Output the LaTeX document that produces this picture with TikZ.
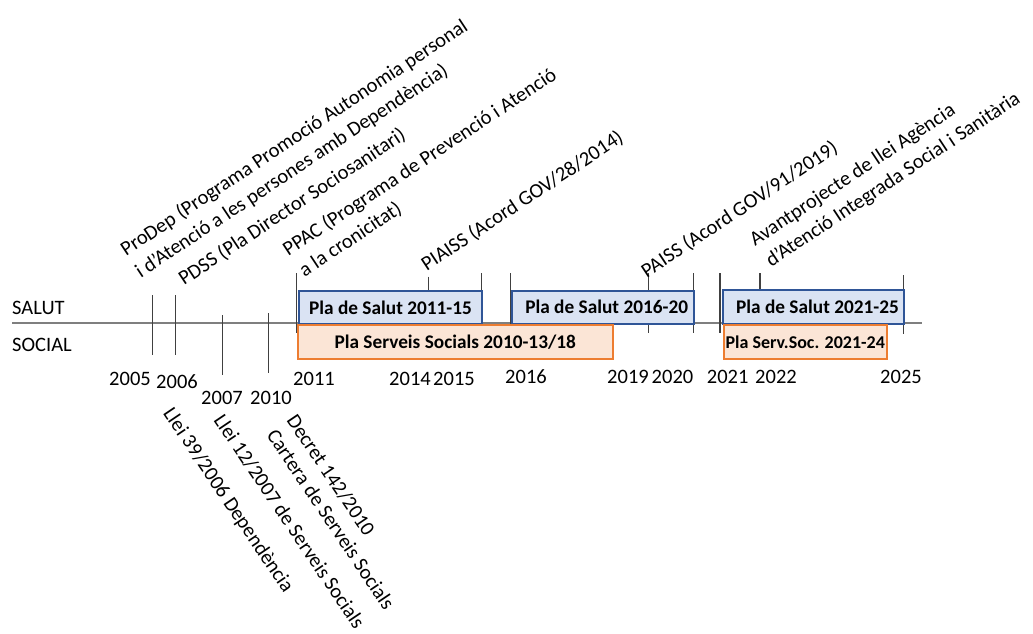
\documentclass[tikz,border=0pt]{standalone}
\usepackage{fontspec}
\setmainfont{Carlito}
\definecolor{salutfill}{HTML}{DAE3F3}
\definecolor{salutedge}{HTML}{2F5597}
\definecolor{socfill}{HTML}{FBE5D6}
\definecolor{socedge}{HTML}{ED7D31}
\definecolor{axisgray}{HTML}{7F7F7F}
\definecolor{tickgray}{HTML}{404040}
\tikzset{
  axisline/.style={draw=axisgray, line width=1.6pt},
  tickmark/.style={draw=tickgray, line width=1.1pt},
  planbox/.style={anchor=north west, inner sep=0pt, line width=2pt,
    font=\fontsize{19.3}{23}\selectfont\bfseries},
  salutbox/.style={planbox, fill=salutfill, draw=salutedge},
  socbox/.style={planbox, fill=socfill, draw=socedge},
  rowlabel/.style={anchor=base west, inner sep=0pt, font=\fontsize{20.5}{24}\selectfont},
  yearlabel/.style={anchor=base, inner sep=0pt, font=\fontsize{20.5}{24}\selectfont},
  uplabel/.style={anchor=base west, inner sep=0pt, rotate=33.5,
    font=\fontsize{20.5}{24}\selectfont},
  downlabel/.style={anchor=north west, inner sep=0pt, rotate=-56,
    font=\fontsize{20.5}{24}\selectfont},
}
\begin{document}
\begin{tikzpicture}[x=1pt,y=-1pt]
\useasboundingbox (0,0) rectangle (1033,633);

% time axis
\coordinate (axL) at (12,322.7);
\coordinate (axR) at (921.7,322.7);
\draw[axisline] (axL) -- (axR);

% row labels
\node[rowlabel] (salut) at (12,314) {SALUT};
\node[rowlabel] (social) at (12,351) {SOCIAL};

% year ticks
\draw[tickmark] (152.3,295) -- (152.3,355);
\draw[tickmark] (175.3,295) -- (175.3,355);
\draw[tickmark] (222.7,315) -- (222.7,375);
\draw[tickmark] (268.7,313) -- (268.7,373);
\draw[tickmark] (296.3,273) -- (296.3,333);
\draw[tickmark] (428.3,276.7) -- (428.3,330);
\draw[tickmark] (481.3,273) -- (481.3,330);
\draw[tickmark] (510.7,273) -- (510.7,330);
\draw[tickmark] (648.3,273) -- (648.3,332.7);
\draw[tickmark] (693.3,273) -- (693.3,332.7);
\draw[tickmark] (720,273) -- (720,332.7);
\draw[tickmark] (760,273) -- (760,330);
\draw[tickmark] (903.3,275) -- (903.3,334);

% plans
\node[salutbox, minimum width=182.4pt, minimum height=33pt] (ps1) at (298.3,290) {Pla de Salut 2011-15};
\node[salutbox, minimum width=182pt, minimum height=32.5pt] (ps2) at (510.7,290) {\hspace{8pt}Pla de Salut 2016-20};
\node[salutbox, minimum width=181.6pt, minimum height=33.4pt] (ps3) at (721.7,289.3) {\hspace{8pt}Pla de Salut 2021-25};
\node[socbox, minimum width=315pt, minimum height=33.4pt] (pss1) at (296.7,324.3) {Pla Serveis Socials 2010-13/18};
\node[socbox, minimum width=162.8pt, minimum height=33.4pt, font=\fontsize{18}{22}\selectfont\bfseries] (pss2) at (722.9,324.3) {Pla Serv.Soc. 2021-24};

% years
\node[yearlabel] (y2005) at (130,385) {2005};
\node[yearlabel] (y2006) at (177,388) {2006};
\node[yearlabel] (y2007) at (222,404.5) {2007};
\node[yearlabel] (y2010) at (271,404.5) {2010};
\node[yearlabel] (y2011) at (314,385) {2011};
\node[yearlabel] (y2014) at (410,385) {2014};
\node[yearlabel] (y2015) at (454,385) {2015};
\node[yearlabel] (y2016) at (526,383) {2016};
\node[yearlabel] (y2019) at (628,383) {2019};
\node[yearlabel] (y2020) at (672.5,383) {2020};
\node[yearlabel] (y2021) at (727.7,383) {2021};
\node[yearlabel] (y2022) at (776,383) {2022};
\node[yearlabel] (y2025) at (901,383) {2025};

% milestones above the axis
\node[uplabel] (prodepA) at (126,256.7) {ProDep (Programa Promoció Autonomia personal};
\node[uplabel] (prodepB) at (140.7,278.3) {i d’Atenció a les persones amb Dependència)};
\node[uplabel] (pdss) at (184,286) {PDSS (Pla Director Sociosanitari)};
\node[uplabel] (ppacA) at (288.3,256.7) {PPAC (Programa de Prevenció i Atenció};
\node[uplabel] (ppacB) at (304.4,277.3) {a la cronicitat)};
\node[uplabel] (piaiss) at (426.7,271.7) {PIAISS (Acord GOV/28/2014)};
\node[uplabel] (paiss) at (646.7,278.4) {PAISS (Acord GOV/91/2019)};
\node[uplabel] (avantA) at (755,246.7) {Avantprojecte de llei Agència};
\node[uplabel] (avantB) at (771.1,267.3) {d’Atenció Integrada Social i Sanitària};

% laws below the axis
\node[downlabel] (llei39) at (174.5,405.5) {Llei 39/2006 Dependència};
\node[downlabel] (llei12) at (225,412) {Llei 12/2007 de Serveis Socials};
\node[downlabel] (cartera) at (278,427.5) {Cartera de Serveis Socials};
\node[downlabel] (decret) at (298,412.5) {Decret 142/2010};
\end{tikzpicture}
\end{document}
